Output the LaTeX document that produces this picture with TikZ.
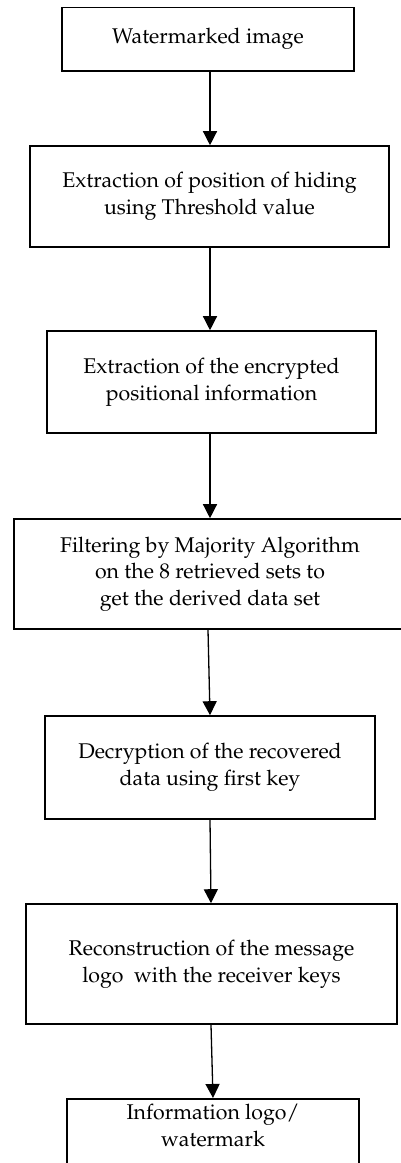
\documentclass[tikz,border=0pt]{standalone}
\usepackage[T1]{fontenc}
\usepackage{mathpazo}
\usetikzlibrary{arrows.meta}
\begin{document}
\begin{tikzpicture}[x=1pt,y=-1pt,
  stepbox/.style={draw=black,line width=1.6pt,rectangle,inner sep=0pt,align=center,
    font=\fontsize{21.3}{26.7}\selectfont},
  flow/.style={line width=1.3pt,-{Triangle[width=14pt,length=14pt]}}]
\useasboundingbox (0,0) rectangle (401,1163);
\fill[white] (0,0) rectangle (401,1163);
\node[stepbox,minimum width=292pt,minimum height=63.5pt] (b1) at (208,39.25) {Watermarked image};
\node[stepbox,minimum width=359pt,minimum height=101pt] (b2) at (209.5,196.5) {Extraction of position of hiding\\using Threshold value};
\node[stepbox,minimum width=329pt,minimum height=102pt] (b3) at (211.5,382) {Extraction of the encrypted\\positional information};
\node[stepbox,minimum width=392pt,minimum height=110pt] (b4) at (210,574) {Filtering by Majority Algorithm\\on the 8 retrieved sets to\\get the derived data set};
\node[stepbox,minimum width=330pt,minimum height=103pt] (b5) at (210,767.5) {Decryption of the recovered\\data using first key};
\node[stepbox,minimum width=371pt,minimum height=120pt] (b6) at (211.5,964) {Reconstruction of the message\\logo\ \ with the receiver keys};
\node[stepbox,minimum width=292pt,minimum height=80pt,anchor=north] (b7) at (213,1098) {};
\node[font=\fontsize{21.3}{26.7}\selectfont,align=center,anchor=north] (t7) at (b7.north) [yshift=-3pt] {Information logo/\\watermark};
\draw[flow] (b1.south -| 210,0) -- (b2.north -| 210,0);
\draw[flow] (b2.south -| 210,0) -- (b3.north -| 210,0);
\draw[flow] (b3.south -| 210,0) -- (b4.north -| 210,0);
\draw[flow] (b4.south -| 208,0) -- (b5.north -| 210,0);
\draw[flow] (b5.south -| 210,0) -- (b6.north -| 211,0);
\draw[flow] (b6.south -| 211,0) -- (b7.north -| 213,0);
\end{tikzpicture}
\end{document}
